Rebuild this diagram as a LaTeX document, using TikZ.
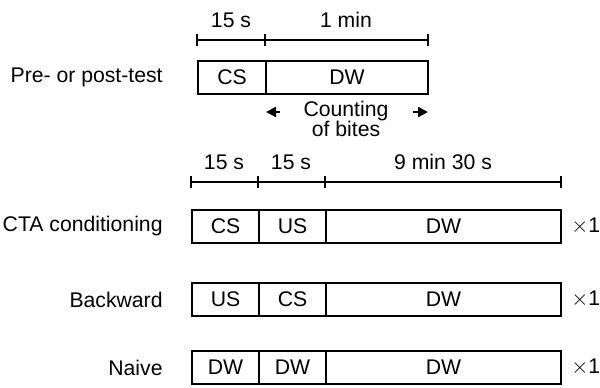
\documentclass[tikz,border=0pt]{standalone}
\usepackage{fontspec}
\setmainfont{Liberation Sans}
\usetikzlibrary{arrows.meta}
\begin{document}
\begin{tikzpicture}[x=0.5pt,y=-0.5pt,
  txt/.style={font=\fontsize{10.6}{12}\selectfont},
  seg/.style={txt,draw,line width=1pt,minimum height=16.5pt,inner sep=0pt,outer sep=0pt,anchor=west},
  lbl/.style={txt,anchor=east,inner sep=0pt},
  dur/.style={txt},
  scalebar/.style={line width=0.8pt},
  tick/.style={line width=0.8pt},
  cnt/.style={-{Triangle[length=5pt,width=5pt]},line width=1.2pt}]
\useasboundingbox (0,0) rectangle (600,387);

% ---- pre/post test ----
\node[lbl] (tlab) at (163,77.5) {Pre- or post-test};
\node[seg,minimum width=34pt] (tcs) at (198,77.5) {CS};
\node[seg,minimum width=81pt] (tdw) at (tcs.east) {DW};
\coordinate (ta) at (197,40);
\coordinate (tb) at (265,40);
\coordinate (tc) at (428,40);
\draw[scalebar] (ta) -- (tc);
\foreach \p in {ta,tb,tc} \draw[tick] ([yshift=3pt]\p) -- ([yshift=-3pt]\p);
\node[dur] (t15) at (231,20) {15 s};
\node[dur] (t1m) at (346,20) {1 min};
\node[dur,anchor=base,inner sep=0pt] (cnt1) at (346,116.5) {Counting};
\node[dur,anchor=base,inner sep=0pt] (cnt2) at (346,136.5) {of bites};
\coordinate (al) at (266,112);
\coordinate (ar) at (428,112);
\draw[cnt] ([xshift=7pt]al) -- (al);
\draw[cnt] ([xshift=-7.5pt]ar) -- (ar);

% ---- session timeline ----
\coordinate (sa) at (191,182);
\coordinate (sb) at (258,182);
\coordinate (sc) at (325,182);
\coordinate (sd) at (561,182);
\draw[scalebar] (sa) -- (sd);
\foreach \p in {sa,sb,sc,sd} \draw[tick] ([yshift=3pt]\p) -- ([yshift=-3pt]\p);
\node[dur] (s1) at (224,162) {15 s};
\node[dur] (s2) at (291,162) {15 s};
\node[dur] (s3) at (443,162) {9 min 30 s};

% ---- rows ----
\foreach \y/\nm/\a/\b/\lab in {226/cta/CS/US/CTA conditioning,299.5/bwd/US/CS/Backward,367.5/nai/DW/DW/Naive}{
  \node[lbl] (\nm lab) at (163,\y) {\lab};
  \node[seg,minimum width=33.5pt] (\nm 1) at (192,\y) {\a};
  \node[seg,minimum width=33.5pt] (\nm 2) at (\nm 1.east) {\b};
  \node[seg,minimum width=117.5pt] (\nm 3) at (\nm 2.east) {DW};
  \node[txt,anchor=west,inner sep=0pt] (\nm x) at (571,\y) {$\times$1};
}
\end{tikzpicture}
\end{document}
